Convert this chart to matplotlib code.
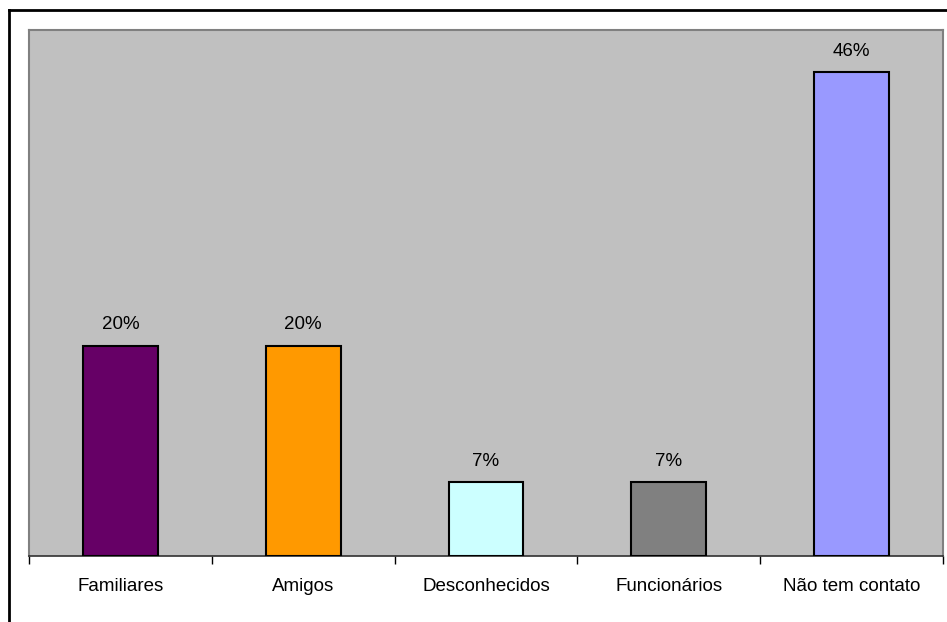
import matplotlib
matplotlib.use("Agg")
import matplotlib.pyplot as plt
from matplotlib.lines import Line2D

categories = ["Familiares", "Amigos", "Desconhecidos", "Funcionários", "Não tem contato"]
values = [0.20, 0.20, 0.07, 0.07, 0.46]
labels = ["20%", "20%", "7%", "7%", "46%"]
colors = ["#660066", "#FF9900", "#CCFFFF", "#808080", "#9999FF"]

plt.rcParams['font.family'] = ['Liberation Sans', 'DejaVu Sans']

W, H = 947, 622
fig = plt.figure(figsize=(W / 100, H / 100), dpi=100)
fig.patch.set_facecolor("white")

ax = fig.add_axes([29 / W, (H - 556) / H, (943 - 29) / W, (556 - 30) / H])
ax.set_facecolor("#C0C0C0")

x = list(range(len(categories)))
ax.bar(x, values, width=0.41, color=colors, edgecolor="black", linewidth=1.5, zorder=3)

for xi, v, lab in zip(x, values, labels):
    ax.annotate(lab, (xi, v), xytext=(0, 9), textcoords="offset points",
                ha="center", va="bottom", fontsize=13.5, color="black")

ax.set_xlim(-0.5, len(categories) - 0.5)
ax.set_ylim(0, 0.5)

ax.set_yticks([])
ax.set_xticks([i - 0.5 for i in range(len(categories) + 1)], minor=False)
ax.set_xticklabels([])
ax.set_xticks(x, minor=True)
ax.set_xticklabels(categories, minor=True, fontsize=13.5)
ax.tick_params(axis="x", which="major", length=6, width=1, color="black", direction="out")
ax.tick_params(axis="x", which="minor", length=0, pad=16)

for side in ["left", "top", "right"]:
    ax.spines[side].set_color("#808080")
    ax.spines[side].set_linewidth(1.5)
ax.spines["bottom"].set_color("#303030")
ax.spines["bottom"].set_linewidth(1.2)

# outer chart border (left and top visible)
fig.add_artist(Line2D([9 / W, 9 / W], [0, (H - 10) / H], color="black", linewidth=2,
                      transform=fig.transFigure))
fig.add_artist(Line2D([9 / W, 1], [(H - 10) / H, (H - 10) / H], color="black", linewidth=2,
                      transform=fig.transFigure))

fig.savefig("out.png", dpi=100)
